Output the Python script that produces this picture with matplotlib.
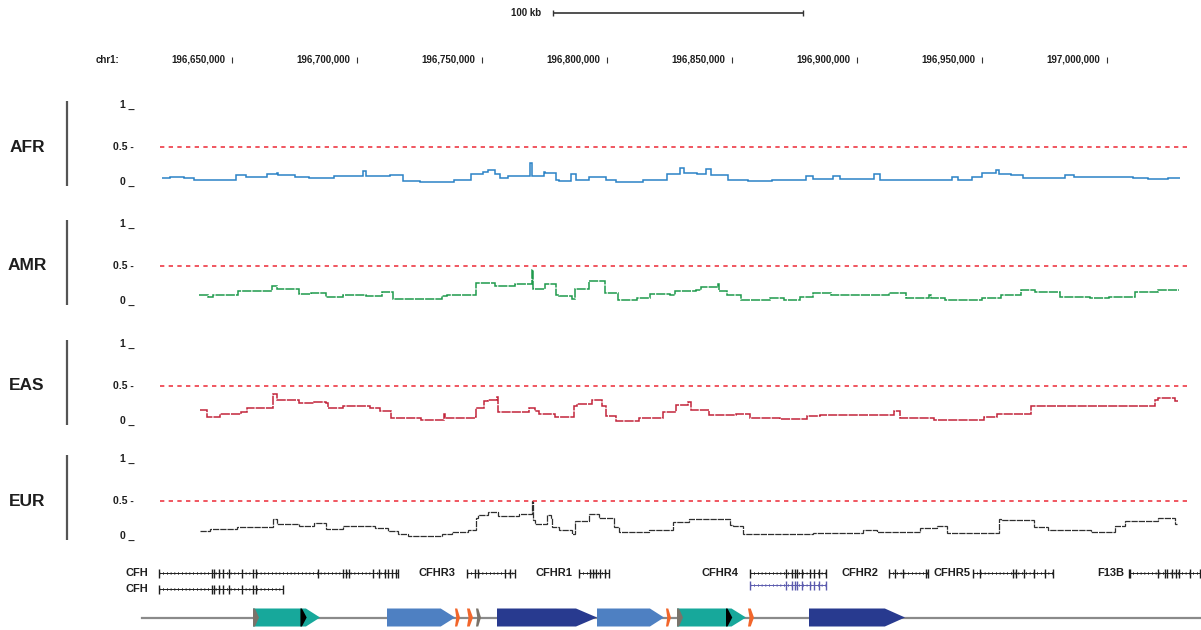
import matplotlib
matplotlib.use("Agg")
import matplotlib.pyplot as plt
from matplotlib.patches import Polygon
from matplotlib.transforms import blended_transform_factory

# ── data (x positions in kb past chr1:196,600,000) ──────────────────────────
ORIGIN_BP = 196_600_000
tick_kb = [50, 100, 150, 200, 250, 300, 350, 400]
scalebar_kb = [178.4, 278.4]

populations = ["AFR", "AMR", "EAS", "EUR"]

afr_edges = [21.9, 25.2, 30.7, 34.8, 51.6, 55.6, 63.8, 67.9, 68.4, 75.2,
             80.7, 90.8, 102.3, 103.6, 113.2, 118.4, 125.2, 138.8, 145.6, 150.3,
             152.3, 155.0, 157.1, 160.4, 169.2, 170.0, 174.6, 175.0, 179.4, 180.7,
             185.4, 187.5, 192.8, 199.6, 203.6, 214.4, 224.0, 229.3, 230.6, 236.0,
             239.4, 241.5, 248.2, 256.4, 265.9, 279.4, 282.2, 290.3, 293.0, 306.6,
             309.3, 320.1, 337.8, 340.4, 345.9, 350.0, 355.4, 356.7, 361.5, 366.2,
             383.2, 386.6, 410.3, 416.4, 424.5, 429.3]
afr_vals = [0.102, 0.115, 0.106, 0.072, 0.137, 0.115, 0.150, 0.167, 0.141, 0.115,
            0.098, 0.132, 0.193, 0.132, 0.145, 0.059, 0.046, 0.080, 0.150, 0.180,
            0.202, 0.158, 0.106, 0.124, 0.297, 0.132, 0.184, 0.167, 0.072, 0.063,
            0.150, 0.080, 0.115, 0.080, 0.046, 0.080, 0.150, 0.236, 0.167, 0.150,
            0.220, 0.137, 0.080, 0.059, 0.080, 0.124, 0.088, 0.132, 0.092, 0.158,
            0.080, 0.072, 0.115, 0.072, 0.115, 0.167, 0.209, 0.158, 0.137, 0.098,
            0.141, 0.115, 0.106, 0.088, 0.106]

amr_edges = [36.8, 40.2, 42.2, 52.3, 66.1, 67.9, 76.6, 81.4, 87.5, 94.2,
             103.7, 109.8, 114.5, 134.1, 136.1, 147.6, 155.0, 163.2, 169.9, 170.3,
             175.0, 179.4, 180.7, 185.8, 187.2, 192.9, 199.0, 204.4, 211.8, 217.2,
             225.2, 227.2, 235.4, 237.4, 244.2, 244.9, 248.0, 253.7, 265.2, 270.6,
             277.0, 282.2, 289.6, 312.6, 319.7, 328.9, 329.6, 335.0, 350.0, 357.4,
             365.5, 371.0, 381.1, 393.3, 400.8, 411.0, 420.4, 428.6]
amr_vals = [0.132, 0.102, 0.132, 0.175, 0.245, 0.201, 0.140, 0.157, 0.102, 0.132,
            0.115, 0.166, 0.080, 0.115, 0.123, 0.287, 0.245, 0.270, 0.447, 0.210,
            0.275, 0.132, 0.115, 0.076, 0.210, 0.305, 0.157, 0.058, 0.088, 0.140,
            0.132, 0.182, 0.191, 0.235, 0.270, 0.182, 0.123, 0.063, 0.088, 0.063,
            0.106, 0.157, 0.132, 0.157, 0.096, 0.123, 0.088, 0.063, 0.088, 0.132,
            0.191, 0.166, 0.106, 0.088, 0.106, 0.166, 0.191]

eas_edges = [37.3, 40.0, 45.3, 53.4, 56.0, 66.2, 68.1, 76.7, 82.8, 87.4,
             88.2, 94.4, 105.1, 109.1, 113.6, 125.7, 134.6, 135.1, 147.0, 147.4,
             150.6, 152.5, 156.0, 156.5, 168.6, 171.2, 172.6, 179.3, 186.8, 188.1,
             194.0, 198.0, 199.4, 203.4, 212.8, 222.2, 227.5, 232.3, 233.7, 240.9,
             251.6, 257.0, 269.0, 279.8, 285.1, 314.6, 317.3, 330.7, 350.8, 356.1,
             369.5, 419.1, 420.4, 427.1, 428.4]
eas_vals = [0.188, 0.103, 0.137, 0.162, 0.214, 0.393, 0.321, 0.282, 0.299, 0.278,
            0.214, 0.248, 0.214, 0.179, 0.094, 0.068, 0.137, 0.094, 0.107, 0.214,
            0.308, 0.316, 0.359, 0.171, 0.222, 0.179, 0.137, 0.103, 0.248, 0.265,
            0.325, 0.248, 0.120, 0.051, 0.094, 0.162, 0.256, 0.299, 0.188, 0.128,
            0.145, 0.094, 0.077, 0.111, 0.128, 0.179, 0.094, 0.068, 0.103, 0.137,
            0.248, 0.325, 0.342, 0.308]

eur_edges = [37.3, 41.3, 52.0, 66.2, 68.1, 76.7, 82.8, 87.4, 94.4, 107.0,
             112.3, 116.3, 120.4, 133.8, 137.8, 144.5, 147.4, 148.5, 152.5, 156.5,
             164.6, 169.9, 170.4, 171.2, 175.8, 177.4, 178.0, 180.6, 186.0, 187.3,
             192.7, 196.7, 202.9, 204.8, 216.8, 226.2, 232.9, 249.0, 250.3, 254.3,
             282.4, 302.5, 307.9, 325.3, 332.0, 336.0, 356.9, 357.4, 370.8, 376.2,
             393.6, 403.0, 407.0, 420.4, 427.1, 428.0]
eur_vals = [0.115, 0.141, 0.171, 0.269, 0.209, 0.184, 0.218, 0.141, 0.175, 0.150,
            0.115, 0.073, 0.047, 0.073, 0.107, 0.132, 0.286, 0.320, 0.355, 0.312,
            0.329, 0.500, 0.256, 0.200, 0.320, 0.278, 0.171, 0.128, 0.081, 0.244,
            0.329, 0.278, 0.167, 0.098, 0.132, 0.226, 0.269, 0.192, 0.175, 0.073,
            0.090, 0.124, 0.098, 0.150, 0.184, 0.090, 0.269, 0.252, 0.167, 0.132,
            0.107, 0.175, 0.244, 0.278, 0.200]

threshold = 0.5
threshold_span = [21.2, 432.4]

# genes: name shown, row, exon positions (first/last = gene ends)
gene_names = ["CFH", "CFH", "CFHR3", "CFHR1", "CFHR4", "", "CFHR2", "CFHR5", "F13B"]
gene_rows = [0, 1, 0, 0, 0, 2, 0, 0, 0]
gene_exons = [
    [20.8, 42.0, 42.8, 44.8, 46.4, 48.8, 54.0, 58.4, 59.6, 84.4,
     94.4, 95.6, 96.8, 106.4, 108.8, 111.2, 112.4, 114.0, 115.6, 116.4],
    [20.8, 42.0, 42.8, 44.8, 46.4, 48.8, 54.0, 58.4, 59.6, 70.4],
    [144.0, 147.2, 148.4, 159.2, 161.2, 163.2],
    [188.8, 193.2, 194.4, 195.6, 197.2, 199.2, 200.8],
    [257.2, 271.6, 274.0, 275.2, 276.0, 278.0, 281.2, 282.8, 284.8, 287.6],
    [257.2, 271.6, 274.0, 275.2, 276.0, 278.0, 281.2, 282.8, 284.8, 287.6],
    [312.8, 315.2, 318.4, 327.6, 328.4],
    [346.4, 349.2, 362.4, 363.6, 366.8, 370.8, 375.2, 378.4],
    [408.8, 409.2, 420.4, 423.2, 424.0, 426.0, 427.6, 428.8, 433.2, 437.2],
]

# schematic blocks along the bottom line
feat_start = [58.4, 112.0, 139.2, 144.0, 147.6, 156.0, 196.0, 223.6, 228.0, 256.4, 280.8]
feat_end = [85.2, 139.2, 141.2, 146.4, 149.6, 196.0, 222.8, 225.6, 255.6, 258.8, 319.2]
feat_kind = ["teal", "blue", "orange", "orange", "grey", "navy",
             "blue", "orange", "teal", "orange", "navy"]
feat_line = [14.0, 437.6]

# ── style / layout ──────────────────────────────────────────────────────────
W, H = 1201, 630
KB_LEFT, KB_RIGHT = -42.8, 437.6     # 2.5 px per kb across the full width
PX_PER_UNIT = 78
track_zero_px = [186, 305, 425, 540]
track_colors = ["#2B83C6", "#1E9A4C", "#C2243B", "#2F2F2F"]
track_dash = ["solid", (0, (6, 0.7)), (0, (6, 0.7)), (0, (5, 0.8))]
track_lw = [1.1, 1.1, 1.1, 0.9]
row_y = [573, 589, 585]
gene_colors = ["#1E1E1E", "#1E1E1E", "#5B5BAE"]
label_gap_kb = [4.4, 4.4, 4.8, 2.8, 4.4, 0.0, 4.0, 0.8, 2.0]
feat_colors = {"teal": "#17A89B", "blue": "#4E80C2", "navy": "#283A8F",
               "orange": "#F2662B", "grey": "#7A736A"}
TXT = "#1E1E1E"

plt.rcParams["font.family"] = ["Liberation Sans", "DejaVu Sans"]
plt.rcParams["font.weight"] = "bold"

fig = plt.figure(figsize=(W / 100, H / 100), dpi=100)

# pixel-space overlay for pure layout items
ax_px = fig.add_axes([0, 0, 1, 1])
ax_px.set_xlim(0, W); ax_px.set_ylim(H, 0); ax_px.axis("off")

# genome-space overlay: x in kb, y in pixels
ax_g = fig.add_axes([0, 0, 1, 1])
ax_g.set_xlim(KB_LEFT, KB_RIGHT); ax_g.set_ylim(H, 0); ax_g.axis("off")

# ── scale bar & ruler ───────────────────────────────────────────────────────
ax_g.plot(scalebar_kb, [13, 13], color="#333333", lw=1.2, solid_capstyle="butt")
ax_g.vlines(scalebar_kb, 10, 16, color="#333333", lw=1.0)
ax_g.text(scalebar_kb[0] - 4.8, 13, f"{scalebar_kb[1] - scalebar_kb[0]:.0f} kb",
          ha="right", va="center", fontsize=7, color=TXT)

ax_px.text(96, 60, "chr1:", ha="left", va="center", fontsize=7, color=TXT)
for k in tick_kb:
    ax_g.text(k - 2.8, 60, f"{ORIGIN_BP + int(k * 1000):,}",
              ha="right", va="center", fontsize=7, color=TXT)
ax_g.vlines(tick_kb, 57, 63, color="#333333", lw=0.8)

# ── population tracks ───────────────────────────────────────────────────────
track_data = [(afr_edges, afr_vals), (amr_edges, amr_vals),
              (eas_edges, eas_vals), (eur_edges, eur_vals)]

for name, z, col, ls, lw, (edges, vals) in zip(populations, track_zero_px, track_colors,
                                                track_dash, track_lw, track_data):
    below, above = 12, 90
    ax = fig.add_axes([0, 1 - (z + below) / H, 1, (below + above) / H])
    ax.set_xlim(KB_LEFT, KB_RIGHT)
    ax.set_ylim(-below / PX_PER_UNIT, above / PX_PER_UNIT)
    ax.axis("off")

    ax.hlines(threshold, *threshold_span, colors="#EE3A45", lw=1.2,
              linestyles=(0, (2.6, 2.6)))
    ax.stairs(vals, edges, baseline=None, color=col, lw=lw, linestyle=ls)

    tr = blended_transform_factory(fig.transFigure, ax.transData)
    ax.text(134 / W, 1.0, "1 _", transform=tr, ha="right", va="baseline",
            fontsize=7.5, color=TXT)
    ax.text(134 / W, 0.5, "0.5 -", transform=tr, ha="right", va="center",
            fontsize=7.5, color=TXT)
    ax.text(134 / W, 0.02, "0 _", transform=tr, ha="right", va="baseline",
            fontsize=7.5, color=TXT)

    ax_px.text(27, z - 39, name, ha="center", va="center", fontsize=12.5, color=TXT)
    ax_px.plot([67, 67], [z - 85, z], color="#555555", lw=1.6, solid_capstyle="butt")

# ── gene models ─────────────────────────────────────────────────────────────
for name, row, exons, gap in zip(gene_names, gene_rows, gene_exons, label_gap_kb):
    y = row_y[row]
    col = gene_colors[row]
    ax_g.plot([exons[0], exons[-1]], [y, y], color=col, lw=0.7)
    ax_g.plot([exons[0], exons[-1]], [y, y], color=col, lw=2.0,
              linestyle=(0, (0.25, 1.1)), dash_capstyle="butt")
    ax_g.vlines(exons, y - 4.5, y + 4.5, color=col, lw=1.0)
    if name:
        ax_g.text(exons[0] - gap, y, name, ha="right", va="center",
                  fontsize=8, color=TXT)

# ── schematic blocks ────────────────────────────────────────────────────────
yc, hh = 617.5, 9.0
ax_g.plot(feat_line, [yc, yc], color="#8A8A8A", lw=1.6, zorder=1)

for s, e, kind in zip(feat_start, feat_end, feat_kind):
    col = feat_colors[kind]
    w = e - s
    if kind in ("teal", "blue", "navy"):
        tip = 0.21 * w
        pts = [(s, yc - hh), (e - tip, yc - hh), (e, yc), (e - tip, yc + hh), (s, yc + hh)]
        ax_g.add_patch(Polygon(pts, closed=True, facecolor=col, edgecolor="none", zorder=2))
        if kind == "teal":
            b = e - tip
            blk = [(b - 2.2, yc - hh), (b - 1.6, yc - hh), (b + 0.3, yc),
                   (b - 1.6, yc + hh), (b - 2.2, yc + hh)]
            ax_g.add_patch(Polygon(blk, closed=True, facecolor="black",
                                   edgecolor="none", zorder=3))
            gry = [(s, yc - hh), (s + 0.8, yc - hh), (s + 2.4, yc),
                   (s + 0.8, yc + hh), (s, yc + hh)]
            ax_g.add_patch(Polygon(gry, closed=True, facecolor=feat_colors["grey"],
                                   edgecolor="none", zorder=3))
    else:
        pts = [(s, yc - hh), (s + 0.45 * w, yc - hh), (e, yc),
               (s + 0.45 * w, yc + hh), (s, yc + hh), (s + 0.25 * w, yc)]
        ax_g.add_patch(Polygon(pts, closed=True, facecolor=col, edgecolor="none", zorder=2))

fig.savefig("out.png", dpi=100)
